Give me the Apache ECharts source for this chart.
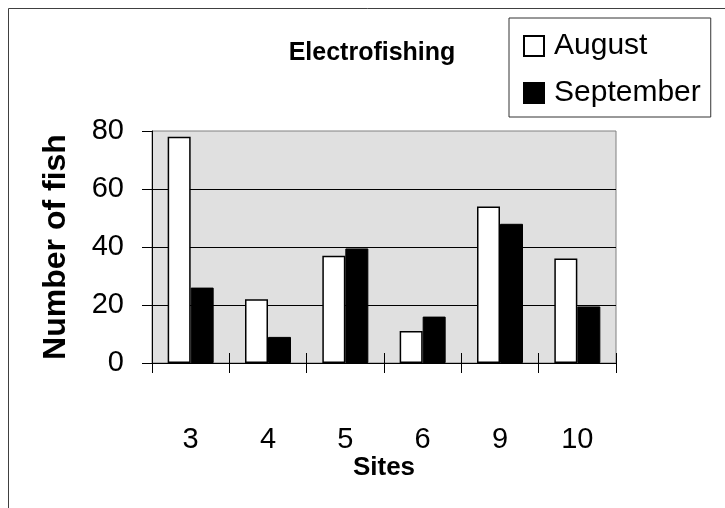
<!DOCTYPE html>
<html>
<head>
<meta charset="utf-8">
<script src="https://cdn.jsdelivr.net/npm/echarts@6/dist/echarts.min.js"></script>
<style>
  html, body { margin: 0; padding: 0; background: #fff; }
  #chart { width: 725px; height: 508px; }
</style>
</head>
<body>
<div id="chart"></div>
<script>
// Sampling sites and fish counts per month
const sites = ['3', '4', '5', '6', '9', '10'];
const august = [78, 22, 37, 11, 54, 36];
const september = [26, 9, 39.5, 16, 48, 19.5];
const yTicks = { min: 0, max: 80, interval: 20 };

const FONT = '"Liberation Sans", Arial, sans-serif';

const chart = echarts.init(document.getElementById('chart'), null, { renderer: 'canvas' });

chart.setOption({
  animation: false,
  backgroundColor: '#ffffff',
  textStyle: { fontFamily: FONT, color: '#000' },
  title: {
    text: 'Electrofishing',
    left: 372,
    top: 38,
    padding: 0,
    textAlign: 'center',
    textStyle: { fontFamily: FONT, fontWeight: 'bold', fontSize: 25, lineHeight: 30, color: '#000' }
  },
  legend: {
    orient: 'vertical',
    left: 509,
    top: 18,
    padding: [13, 10, 9, 14],
    itemGap: 17,
    itemWidth: 20,
    itemHeight: 20,
    borderColor: '#333',
    borderWidth: 1,
    backgroundColor: '#fff',
    icon: 'rect',
    textStyle: { fontFamily: FONT, fontSize: 30, lineHeight: 30, color: '#000', padding: [0, 0, 0, 5] },
    data: ['August', 'September']
  },
  graphic: [{
    type: 'rect',
    shape: { x: 8.5, y: 8.5, width: 760, height: 560 },
    style: { fill: 'none', stroke: '#404040', lineWidth: 1 },
    z: -1,
    silent: true
  }],
  grid: {
    left: 152,
    top: 131,
    right: 109,
    bottom: 145,
    show: true,
    backgroundColor: '#e0e0e0',
    borderColor: '#808080',
    borderWidth: 1
  },
  xAxis: [{
    type: 'category',
    data: sites,
    position: 'bottom',
    name: 'Sites',
    nameLocation: 'middle',
    nameGap: 89,
    nameTextStyle: { fontFamily: FONT, fontWeight: 'bold', fontSize: 26, color: '#000' },
    axisLine: { show: true, lineStyle: { color: '#000', width: 1 } },
    axisTick: { show: true, alignWithLabel: false, length: 10, lineStyle: { color: '#000' } },
    axisLabel: { fontFamily: FONT, fontSize: 29, lineHeight: 29, color: '#000', margin: 62 },
    splitLine: { show: false }
  }, {
    type: 'category',
    data: sites,
    position: 'bottom',
    offset: 0,
    axisLine: { show: false },
    axisTick: { show: true, inside: true, alignWithLabel: false, length: 10, lineStyle: { color: '#000' } },
    axisLabel: { show: false },
    splitLine: { show: false }
  }],
  yAxis: {
    type: 'value',
    min: yTicks.min,
    max: yTicks.max,
    interval: yTicks.interval,
    name: 'Number of fish',
    nameLocation: 'middle',
    nameGap: 80,
    nameTextStyle: { fontFamily: FONT, fontWeight: 'bold', fontSize: 32, color: '#000' },
    axisLine: { show: true, lineStyle: { color: '#000', width: 1 } },
    axisTick: { show: true, length: 10, lineStyle: { color: '#000' } },
    axisLabel: { fontFamily: FONT, fontSize: 29, color: '#000', margin: 28 },
    splitLine: { show: true, showMaxLine: false, lineStyle: { color: '#000', width: 1 } }
  },
  series: [{
    name: 'August',
    type: 'bar',
    data: august,
    barWidth: 23,
    barGap: '0%',
    itemStyle: { color: '#ffffff', borderColor: '#000', borderWidth: 1.5 }
  }, {
    name: 'September',
    type: 'bar',
    data: september,
    barWidth: 23,
    barGap: '0%',
    itemStyle: { color: '#000000', borderColor: '#000', borderWidth: 1 }
  }]
});
</script>
</body>
</html>
